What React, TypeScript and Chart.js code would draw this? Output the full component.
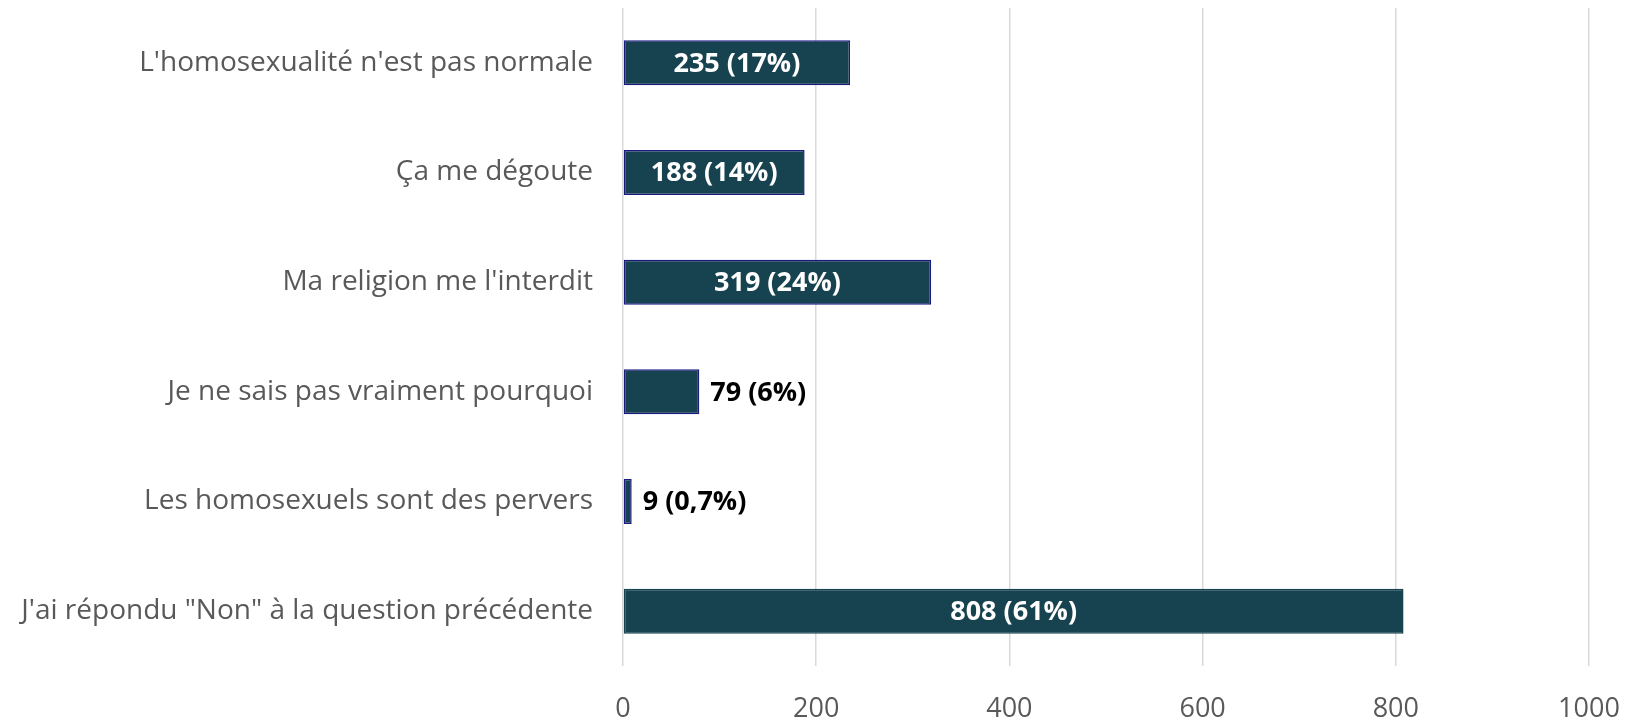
import React, { useEffect, useRef } from "react";
import { Chart, registerables } from "chart.js";

Chart.register(...registerables);

const categories = [
  "L'homosexualité n'est pas normale",
  "Ça me dégoute",
  "Ma religion me l'interdit",
  "Je ne sais pas vraiment pourquoi",
  "Les homosexuels sont des pervers",
  "J'ai répondu \"Non\" à la question précédente",
];
const values = [235, 188, 319, 79, 9, 808];
const valueLabels = ["235 (17%)", "188 (14%)", "319 (24%)", "79 (6%)", "9 (0,7%)", "808 (61%)"];
const xTicks = [0, 200, 400, 600, 800, 1000];

const FONT = "'Open Sans', 'Noto Sans', sans-serif";

const labelPlugin = {
  id: "barLabels",
  afterDatasetsDraw(chart: any) {
    const ctx = chart.ctx;
    const meta = chart.getDatasetMeta(0);
    ctx.save();
    ctx.font = `bold 27px ${FONT}`;
    ctx.textBaseline = "middle";
    meta.data.forEach((bar: any, i: number) => {
      const text = valueLabels[i];
      const w = ctx.measureText(text).width;
      const barW = Math.abs(bar.x - bar.base);
      if (w + 20 < barW) {
        ctx.fillStyle = "#ffffff";
        ctx.textAlign = "center";
        ctx.fillText(text, (bar.x + bar.base) / 2, bar.y + 1);
      } else {
        ctx.fillStyle = "#000000";
        ctx.textAlign = "left";
        ctx.fillText(text, bar.x + 11, bar.y + 1);
      }
    });
    ctx.restore();
  },
};

function zeroPad(scale: any) {
  scale.paddingLeft = 0;
  scale.paddingRight = 0;
  scale.paddingTop = 0;
  scale.paddingBottom = 0;
}

export default function App() {
  const ref = useRef<HTMLCanvasElement>(null);
  useEffect(() => {
    if (!ref.current) return;
    const chart = new Chart(ref.current, {
      type: "bar",
      data: {
        labels: categories,
        datasets: [
          {
            data: values,
            backgroundColor: "#174250",
            borderColor: values.map((_, i) => (i === values.length - 1 ? "#174250" : "#1a1a80")),
            borderWidth: 1.5,
            borderSkipped: false,
            categoryPercentage: 1,
            barPercentage: 0.41,
          },
        ],
      },
      options: {
        indexAxis: "y",
        animation: false,
        responsive: true,
        maintainAspectRatio: false,
        layout: { padding: { top: 8, right: 38, left: 0, bottom: 0 } },
        plugins: { legend: { display: false }, tooltip: { enabled: false } },
        scales: {
          x: {
            min: 0,
            max: 1000,
            afterBuildTicks(scale: any) {
              scale.ticks = xTicks.map((v) => ({ value: v }));
            },
            afterFit(scale: any) {
              scale.height = 55;
              zeroPad(scale);
            },
            grid: { color: "#d9d9d9", lineWidth: 1.5, drawTicks: false },
            border: { display: false },
            ticks: {
              color: "#595959",
              font: { family: FONT, size: 27 },
              padding: 27,
              callback: (v: any) => String(v),
            },
          },
          y: {
            afterFit(scale: any) {
              scale.width = 623;
              zeroPad(scale);
            },
            grid: { display: false, drawTicks: false },
            border: { display: false },
            ticks: {
              color: "#595959",
              font: { family: FONT, size: 28 },
              padding: 30,
            },
          },
        },
      },
      plugins: [labelPlugin],
    });
    return () => chart.destroy();
  }, []);
  return (
    <div style={{ position: "fixed", left: 0, top: 0, width: 1627, height: 721, background: "#fff" }}>
      <canvas ref={ref} />
    </div>
  );
}
